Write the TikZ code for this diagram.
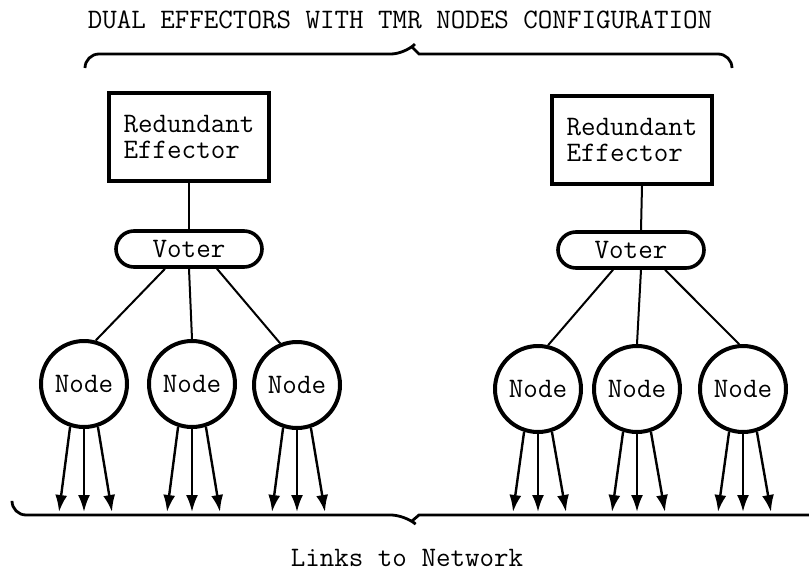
\documentclass[tikz,border=0pt]{standalone}
\usetikzlibrary{arrows.meta}

\tikzset{
  txt/.style={font=\ttfamily\fontsize{14.1}{13}\selectfont},
  effector/.style={draw, line width=2pt, minimum width=80pt, minimum height=44pt, align=left, txt},
  voter/.style={draw, line width=1.8pt, rounded corners=9pt, minimum width=73pt, minimum height=18pt, inner sep=2pt, txt},
  unit/.style={draw, circle, line width=2pt, minimum size=43pt, inner sep=0pt, txt},
  wire/.style={line width=1pt},
  link/.style={line width=1.2pt, -{Latex[length=8.5pt,width=6pt]}},
  brace/.style={line width=1.4pt},
}

\begin{document}
\begin{tikzpicture}[x=0.5pt, y=-0.5pt]
  \useasboundingbox (0,0) rectangle (809,573);

  \node[txt] (title) at (400,20) {DUAL EFFECTORS WITH TMR NODES CONFIGURATION};
  \node[txt] (net) at (407,558) {Links to Network};

  \node[effector] (effL) at (189,137) {Redundant\\Effector};
  \node[effector] (effR) at (632,140) {Redundant\\Effector};
  \node[voter] (votL) at (189,249) {Voter};
  \node[voter] (votR) at (631,250) {Voter};

  \node[unit] (n1) at (84,384) {Node};
  \node[unit] (n2) at (192,384) {Node};
  \node[unit] (n3) at (297,385) {Node};
  \node[unit] (n4) at (538,389) {Node};
  \node[unit] (n5) at (637,389) {Node};
  \node[unit] (n6) at (743,389) {Node};

  % effector -- voter -- nodes
  \draw[wire] (effL.south) -- (votL.north);
  \draw[wire] ([xshift=5pt]effR.south) -- ([xshift=5pt]votR.north);
  \draw[wire] ([xshift=-12pt]votL.south) -- (n1.75);
  \draw[wire] (votL.south) -- (n2.north);
  \draw[wire] ([xshift=14pt]votL.south) -- (n3.112);
  \draw[wire] ([xshift=-9pt]votR.south) -- (n4.77);
  \draw[wire] ([xshift=5pt]votR.south) -- (n5.north);
  \draw[wire] ([xshift=17pt]votR.south) -- (n6.95);

  % links down to the network
  \foreach \n/\x in {1/84, 2/192, 3/297, 4/538, 5/637, 6/743} {
    \coordinate (t\n a) at (\x-25,512);
    \coordinate (t\n b) at (\x,512);
    \coordinate (t\n c) at (\x+28,512);
    \draw[link] (n\n.-108) -- (t\n a);
    \draw[link] (n\n.south) -- (t\n b);
    \draw[link] (n\n.-72) -- (t\n c);
  }

  % braces
  \draw[brace] (85,68) [rounded corners=7pt] |- (405,54) [sharp corners] -- (412,47) -- (419,54) [rounded corners=7pt] -| (732,68);
  \draw[brace] (12,502) [rounded corners=7pt] |- (405,515) [sharp corners] -- (412,521) -- (419,515) -- (809,515);
\end{tikzpicture}
\end{document}
